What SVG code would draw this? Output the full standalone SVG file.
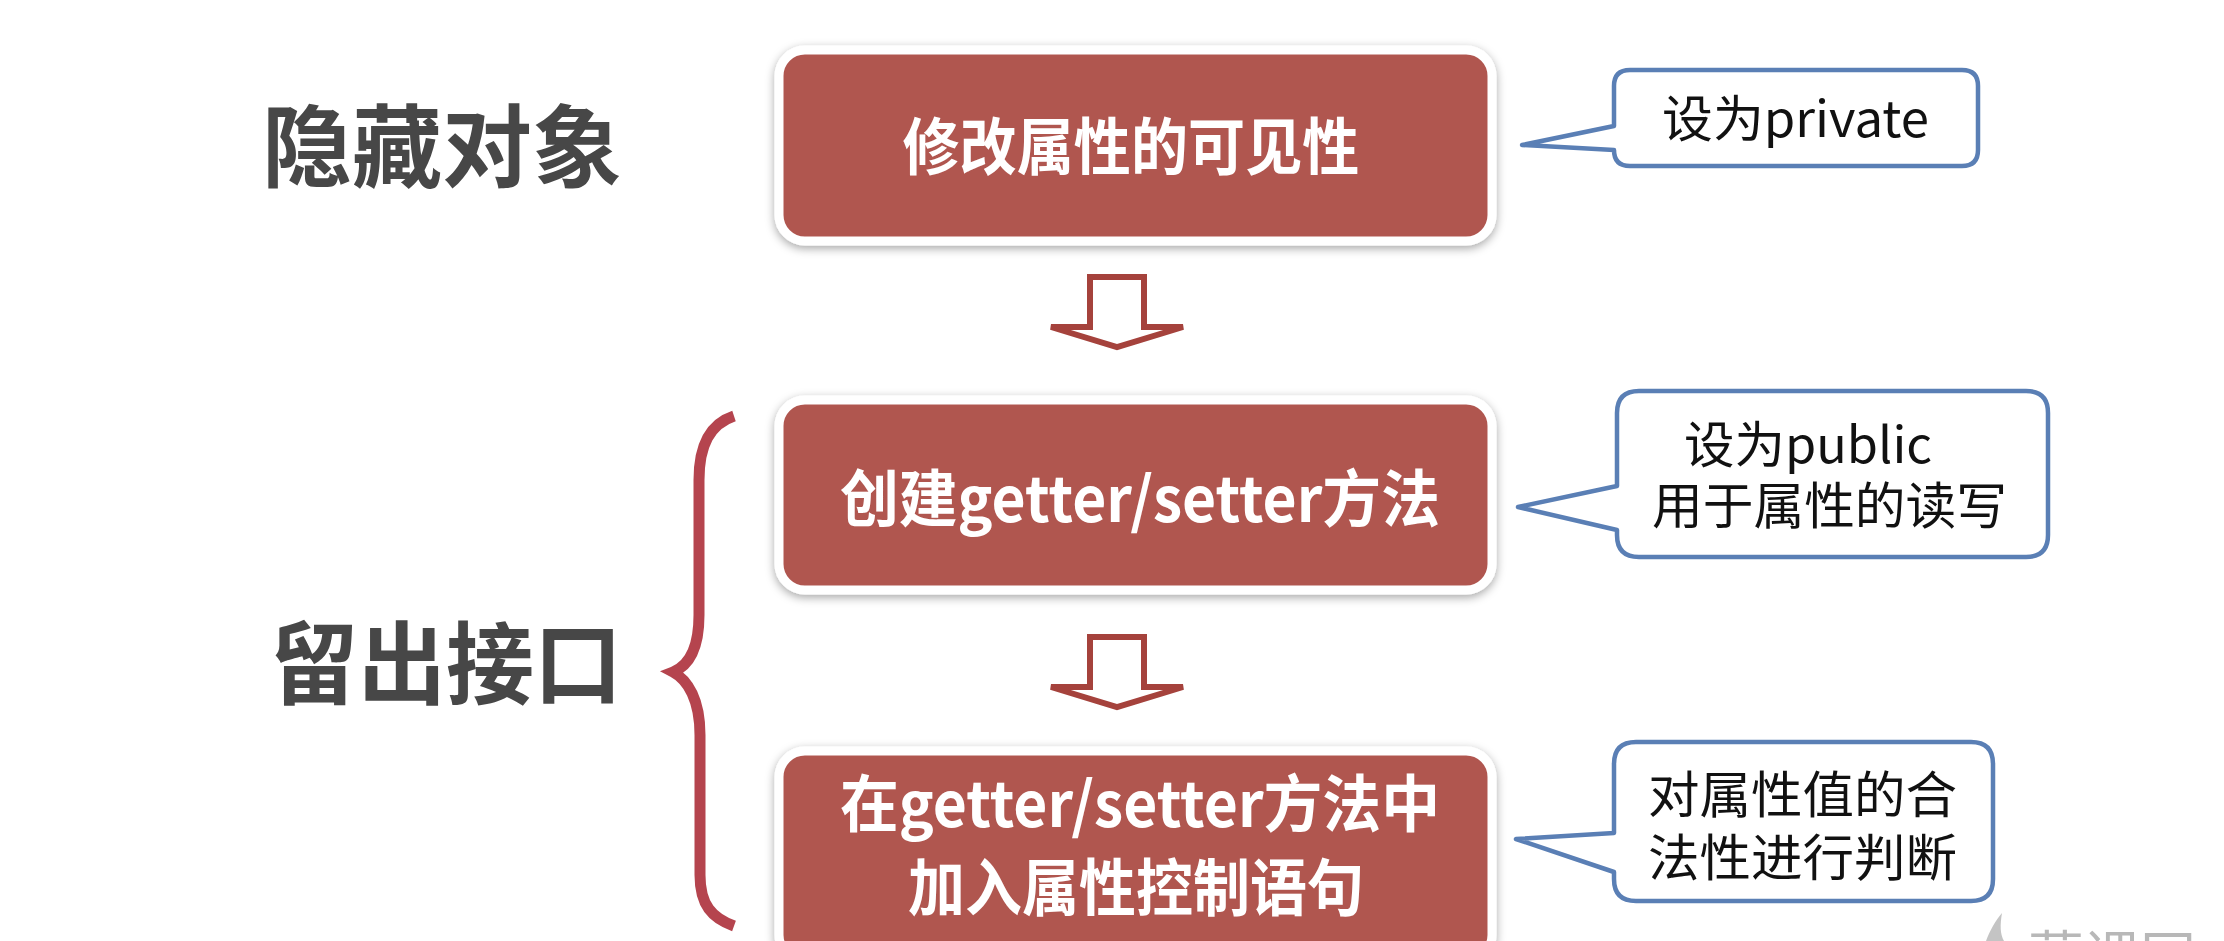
<svg xmlns="http://www.w3.org/2000/svg" width="2224" height="941" viewBox="0 0 2224 941">
<defs>
<filter id="sh" x="-10%" y="-20%" width="120%" height="140%">
<feDropShadow dx="0" dy="3" stdDeviation="5" flood-color="#000" flood-opacity="0.35"/>
</filter>
<style>
.box{fill:#B05650;stroke:#fff;stroke-width:9;filter:url(#sh)}
.bt{font-family:"Noto Sans CJK SC","Noto Sans",sans-serif;font-weight:bold;fill:#fff;font-size:62px;text-anchor:middle}
.side{font-family:"Noto Sans CJK SC","Noto Sans",sans-serif;font-weight:bold;fill:#474747;font-size:90px}
.co{fill:#fff;stroke:#5A7FB5;stroke-width:4.5;stroke-linejoin:round}
.ct{font-family:"Noto Sans CJK SC","Noto Sans",sans-serif;fill:#111;font-size:50px}
.arr{fill:#fff;stroke:#A5423C;stroke-width:6;stroke-linejoin:miter}
.brace{fill:none;stroke:#B5444E;stroke-width:11;stroke-linecap:butt}
</style>
</defs>
<rect width="2224" height="941" fill="#fff"/>

<g id="label-hide">
<text class="side" x="262" y="180" textLength="360" lengthAdjust="spacingAndGlyphs">隐藏对象</text>
</g>
<g id="label-interface">
<text class="side" x="270" y="697" textLength="352" lengthAdjust="spacingAndGlyphs">留出接口</text>
</g>

<g id="brace">
<path class="brace" d="M 734,416 C 710,424 699,445 699,480 L 699,615 C 699,650 688,666 673,672 C 688,680 700,700 700,735 L 700,875 C 700,905 712,918 734,926"/>
</g>

<g id="node1">
<rect class="box" x="779" y="50" width="713" height="191" rx="26"/>
<text class="bt" x="1131" y="170" textLength="457" lengthAdjust="spacingAndGlyphs">修改属性的可见性</text>
</g>
<g id="node2">
<rect class="box" x="779" y="400" width="713" height="190" rx="26"/>
<text class="bt" x="1140" y="522" textLength="600" lengthAdjust="spacingAndGlyphs">创建getter/setter方法</text>
</g>
<g id="node3">
<rect class="box" x="779" y="751" width="713" height="210" rx="26"/>
<text class="bt" x="1140" y="827" textLength="600" lengthAdjust="spacingAndGlyphs">在getter/setter方法中</text>
<text class="bt" x="1136" y="911" textLength="456" lengthAdjust="spacingAndGlyphs">加入属性控制语句</text>
</g>

<g id="connectors">
<polygon class="arr" points="1090,277 1144,277 1144,327 1183,327 1117,347 1051,327 1090,327"/>
<polygon class="arr" points="1090,637 1144,637 1144,687 1183,687 1117,707 1051,687 1090,687"/>
</g>

<g id="callout1">
<path class="co" d="M 1630,70 H 1962 Q 1978,70 1978,86 V 150 Q 1978,166 1962,166 H 1630 Q 1614,166 1614,150 L 1522,145 L 1614,126 V 86 Q 1614,70 1630,70 Z"/>
<text class="ct" x="1662" y="137" textLength="267" lengthAdjust="spacingAndGlyphs">设为private</text>
</g>
<g id="callout2">
<path class="co" d="M 1639,391 H 2026 Q 2048,391 2048,413 V 535 Q 2048,557 2026,557 H 1639 Q 1617,557 1617,535 V 530 L 1518,507 L 1617,486 V 413 Q 1617,391 1639,391 Z"/>
<text class="ct" x="1684" y="463" textLength="248" lengthAdjust="spacingAndGlyphs">设为public</text>
<text class="ct" x="1652" y="524" textLength="355" lengthAdjust="spacingAndGlyphs">用于属性的读写</text>
</g>
<g id="callout3">
<path class="co" d="M 1636,742 H 1971 Q 1993,742 1993,764 V 879 Q 1993,901 1971,901 H 1636 Q 1614,901 1614,879 V 872 L 1516,839 L 1614,833 V 764 Q 1614,742 1636,742 Z"/>
<text class="ct" x="1648" y="813" textLength="309" lengthAdjust="spacingAndGlyphs">对属性值的合</text>
<text class="ct" x="1648" y="876" textLength="309" lengthAdjust="spacingAndGlyphs">法性进行判断</text>
</g>

<g id="watermark">
<path d="M 1986,941 C 1990,930 1996,920 2002,913 C 2000,925 2000,934 2004,941 Z" fill="#c4c4c4"/>
<text x="2028" y="977" font-family="Noto Sans CJK SC, sans-serif" font-size="56" fill="#b8b8b8">慕课网</text>
</g>
</svg>
